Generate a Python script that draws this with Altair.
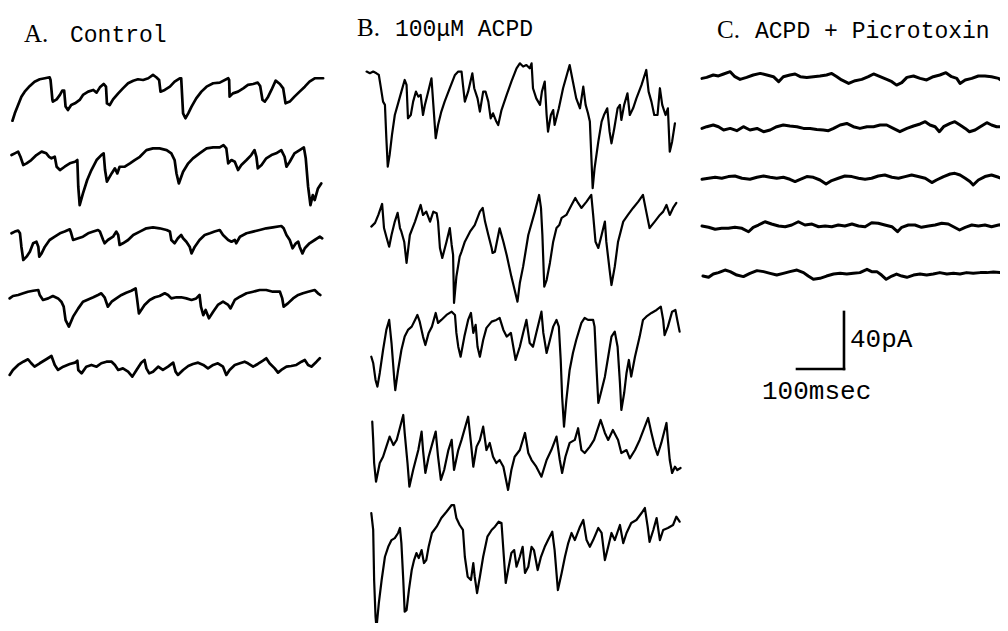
import altair as alt
import pandas as pd

# ---------------- data: (time in ms, current in pA) ----------------
A1 = [(1,-30),(6,-24.8),(13,-19),(20,-13.1),(27,-9.6),(38,-5.6),(48,-2.6),(59,-0.9),(70,-0.2),(80,0.5),(82,-1.4),(86,-15.4),(87,-16.6),(95,-15),(102,-11.9),(107,-8.9),(111,-8.9),(114,-20.1),(119,-22.5),(126,-19),(134,-17.8),(144,-15.4),(151,-11.9),(162,-9.6),(173,-8.4),(180,-10.3),(187,-6.6),(195,-4.2),(200,-6.1),(202,-17.8),(208,-19),(215,-15),(226,-10.8),(236,-7.3),(247,-3.7),(258,-1.9),(268,-0.9),(279,-1.4),(290,-0.2),(300,2.1),(307,0.5),(313,-1.4),(316,-9.6),(325,-8.4),(336,-6.1),(346,-2.6),(357,-0.2),(360,-0.2),(364,-24.8),(369,-28.3),(375,-24.8),(382,-20.1),(392,-14.3),(403,-9.6),(414,-6.1),(428,-3.7),(442,-3.3),(460,-0.2),(462,-1.4),(463,-13.1),(470,-10.8),(481,-9.6),(492,-7.3),(502,-4.9),(513,-4.2),(523,-3.3),(528,-5.6),(533,-15.4),(538,-16.6),(545,-13.1),(552,-8.4),(561,-1.9),(570,-4.2),(577,-7.3),(582,-17.8),(591,-16.6),(601,-13.1),(612,-9.6),(623,-6.1),(633,-2.6),(644,-0.2),(662,-0.2)]
A2 = [(-1,-4.7),(6,-3.5),(13,-2.3),(18,-5.9),(24,-11.7),(31,-10.5),(41,-8.2),(52,-4.7),(63,-2.3),(73,-3.5),(79,-5.9),(84,-7.0),(91,-5.9),(95,-12.9),(102,-15.2),(112,-12.9),(123,-10.5),(134,-9.4),(139,-8.2),(141,-26.9),(144,-39.8),(151,-31.6),(160,-22.2),(169,-15.2),(180,-8.2),(190,-4.7),(195,-3.5),(198,-15.2),(202,-23.4),(212,-17.6),(219,-14.0),(224,-17.6),(229,-12.9),(240,-12.9),(251,-10.5),(261,-8.2),(272,-5.9),(286,-1.2),(300,0),(314,0),(329,-1.2),(339,-3.5),(346,-8.2),(350,-17.6),(355,-24.6),(364,-16.4),(375,-10.5),(385,-7.0),(399,-3.5),(414,0),(428,0.7),(442,0.7),(450,2.3),(456,0),(460,-10.5),(467,-8.2),(474,-9.4),(481,-15.2),(488,-11.7),(499,-8.2),(509,-4.7),(516,-1.2),(520,-5.9),(523,-14.0),(531,-11.7),(541,-7.0),(552,-4.7),(562,-3.5),(573,-1.2),(580,-5.9),(584,-12.9),(591,-9.4),(601,-3.5),(612,-1.2),(621,0.7),(625,-7.0),(630,-26.9),(635,-39.8),(640,-32.8),(644,-36.3),(651,-28.1),(658,-24.6)]
A3 = [(-1,-3.5),(6,-2.3),(13,-1.6),(17,-3.5),(20,-12.9),(24,-22.2),(31,-19.9),(38,-16.4),(45,-10.5),(52,-9.4),(56,-12.9),(58,-19.9),(63,-17.6),(70,-12.9),(80,-8.2),(91,-5.9),(102,-3.5),(112,-2.3),(123,-0.7),(126,-3.5),(130,-8.2),(141,-7.0),(151,-5.9),(162,-3.5),(173,-2.3),(183,-1.2),(187,-2.3),(194,-8.2),(197,-10.5),(204,-8.2),(215,-5.9),(222,-2.3),(226,-4.7),(229,-11.7),(236,-10.5),(247,-8.2),(258,-4.7),(272,-2.3),(286,0),(300,0.7),(314,0),(329,-1.2),(336,-2.3),(339,-8.2),(346,-10.5),(353,-7.0),(360,-4.7),(364,-7.0),(371,-9.4),(378,-12.9),(382,-17.6),(389,-12.9),(399,-8.2),(410,-4.7),(421,-3.5),(431,-2.3),(442,-1.2),(449,-4.7),(460,-8.2),(467,-9.4),(474,-8.2),(477,-10.5),(485,-5.9),(499,-3.5),(513,-2.3),(527,-1.2),(541,0),(555,0.7),(573,1.6),(578,0),(584,-4.7),(591,-8.2),(597,-14.0),(604,-10.5),(609,-9.4),(612,-12.9),(618,-17.6),(623,-14.0),(633,-10.5),(644,-8.2),(655,-5.9),(660,-7.0)]
A4 = [(-5,-5.9),(2,-4.2),(13,-3.5),(24,-2.3),(34,-1.2),(45,-0.5),(56,0),(59,-3.5),(66,-7.0),(77,-5.9),(87,-4.2),(98,-5.9),(105,-8.2),(110,-11.7),(114,-21.1),(121,-25.7),(130,-18.7),(141,-12.9),(151,-8.2),(162,-6.6),(173,-5.1),(183,-3.5),(190,-2.3),(197,-5.1),(204,-11.7),(212,-8.2),(222,-5.9),(233,-3.5),(243,-1.9),(254,-0.5),(263,1.2),(266,-5.9),(270,-16.4),(275,-14.0),(282,-10.5),(293,-7.0),(304,-5.1),(314,-4.2),(325,-2.3),(332,-3.5),(339,-5.9),(350,-5.1),(360,-5.1),(371,-5.9),(382,-7.0),(392,-5.9),(399,-3.5),(402,-11.7),(407,-17.6),(412,-14.0),(419,-19.9),(428,-15.2),(438,-10.5),(449,-8.2),(460,-10.5),(465,-12.9),(474,-7.0),(485,-4.7),(499,-2.3),(513,-1.2),(527,0),(541,0),(555,-1.2),(570,-1.2),(575,-5.9),(578,-11.7),(587,-9.4),(598,-5.9),(609,-3.5),(619,-2.3),(630,-1.2),(644,0),(651,-2.3),(656,-3.5)]
A5 = [(-5,-10.5),(2,-7.0),(13,-3.5),(24,-1.2),(34,0.5),(41,-2.3),(48,-4.7),(59,-2.3),(73,0.5),(84,2.8),(91,-3.5),(98,-7.0),(109,-4.7),(123,-2.8),(134,-1.9),(139,-0.5),(141,-7.0),(148,-9.4),(158,-4.7),(169,-3.5),(180,-4.7),(190,-2.3),(201,-1.2),(212,-1.2),(219,-3.5),(226,-7.0),(236,-5.9),(247,-8.2),(256,-11.7),(265,-7.0),(275,-1.9),(282,0),(286,-5.9),(292,-9.4),(300,-8.2),(311,-4.7),(321,-7.0),(332,-4.7),(343,-1.9),(348,-8.2),(353,-10.5),(364,-7.0),(375,-4.2),(385,-2.8),(396,-1.9),(407,-3.5),(417,-5.9),(428,-3.5),(438,-2.3),(449,-4.7),(456,-10.5),(463,-7.0),(474,-3.5),(485,-2.3),(495,-1.2),(502,-2.3),(513,-4.7),(523,-2.8),(534,-0.5),(541,1.2),(548,-2.3),(559,-5.9),(566,-8.9),(573,-7.0),(584,-4.7),(594,-4.2),(605,-3.5),(616,-1.2),(623,0),(630,-3.5),(637,-4.7),(648,-1.2),(655,1.2)]

B1 = [(-3,-2.3),(4,-3.5),(11,-2.3),(18,-3.5),(23,-4.7),(27,-12.9),(32,-23.4),(36,-25.7),(39,-49.1),(42,-69.0),(46,-60.8),(51,-46.8),(57,-32.8),(64,-24.6),(71,-16.4),(78,-8.2),(82,-11.7),(85,-35.1),(91,-32.8),(96,-23.4),(102,-16.4),(107,-19.9),(112,-18.7),(117,-32.8),(121,-25.7),(128,-16.4),(135,-7.0),(139,-25.7),(144,-49.1),(149,-39.8),(156,-30.4),(163,-23.4),(174,-14.0),(185,-4.7),(192,-2.3),(199,-2.3),(202,-11.7),(206,-23.4),(213,-16.4),(222,-3.5),(226,-14.0),(233,-21.1),(238,-30.4),(245,-16.4),(250,-16.4),(256,-23.4),(261,-35.1),(266,-31.6),(273,-37.4),(277,-39.8),(284,-29.3),(295,-18.7),(305,-9.4),(316,0),(323,3.5),(330,1.2),(337,2.3),(344,0),(348,3.5),(351,-14.0),(358,-21.1),(366,-25.7),(370,-16.4),(376,-9.4),(380,-32.8),(383,-44.5),(389,-32.8),(394,-29.3),(397,-39.8),(406,-28.1),(415,-14.0),(424,-3.5),(429,2.3),(436,-9.4),(443,-21.1),(451,-28.1),(458,-12.9),(463,-25.7),(468,-31.6),(472,-37.4),(475,-60.8),(478,-84.2),(482,-70.2),(490,-51.5),(497,-37.4),(502,-32.8),(509,-28.1),(514,-44.5),(518,-52.7),(524,-42.1),(531,-28.1),(536,-25.7),(539,-36.3),(545,-25.7),(552,-17.6),(557,-32.8),(564,-28.1),(571,-21.1),(582,-11.7),(592,-1.2),(597,-16.4),(603,-23.4),(609,-32.8),(616,-32.8),(621,-14.0),(626,-25.7),(633,-32.8),(638,-28.1),(642,-58.5),(647,-51.5),(653,-38.6)]
B2 = [(7,-18.7),(15,-16.1),(22,-10.5),(30,-2.8),(34,-19.7),(39,-25.8),(45,-32.8),(50,-24.6),(57,-15.2),(63,-9.1),(68,-19.7),(71,-22.3),(77,-29.3),(82,-44.2),(89,-24.6),(100,-15.2),(107,-8.2),(112,-3.5),(117,-10.5),(124,-8.2),(132,-15.2),(139,-8.2),(146,-9.3),(149,-15.2),(153,-33.7),(158,-40.7),(167,-29.3),(174,-19.7),(178,-31.6),(181,-38.6),(183,-72.3),(188,-53.8),(195,-39.8),(199,-36.3),(206,-29.3),(217,-22.3),(227,-17.6),(238,-8.2),(244,-5.6),(249,-15.2),(256,-24.6),(263,-33.7),(265,-37.2),(270,-36.3),(280,-19.9),(288,-29.3),(295,-38.6),(305,-53.8),(318,-71.4),(323,-58.3),(330,-46.8),(341,-24.6),(355,-8.2),(364,3.5),(368,-5.6),(371,-24.6),(375,-60.9),(380,-56.2),(387,-44.2),(394,-29.3),(401,-19.7),(407,-17.6),(412,-12.6),(422,-10.5),(433,-3.5),(441,1.4),(447,-2.1),(454,-5.6),(465,-1.2),(475,3.5),(479,-10.5),(484,-29.3),(490,-33.7),(497,-24.6),(504,-15.2),(507,-29.3),(514,-49.1),(518,-59.7),(525,-46.8),(532,-29.3),(543,-15.2),(553,-10.5),(564,-5.6),(575,-1.2),(585,3.5),(592,-8.2),(599,-19.7),(610,-15.2),(621,-10.5),(628,-8.2),(635,-3.5),(642,-10.5),(649,-5.6),(656,-2.1)]
B3 = [(7,-32.8),(11,-37.2),(16,-49.1),(20,-53.8),(25,-44.2),(32,-28.1),(39,-14.0),(45,-7.0),(50,-23.2),(56,-49.1),(58,-56.2),(64,-42.1),(71,-28.1),(78,-18.7),(85,-14.0),(93,-11.7),(100,-7.0),(105,-3.5),(110,-8.2),(117,-18.7),(122,-24.6),(129,-16.1),(136,-11.7),(144,-2.1),(149,-9.1),(156,-7.0),(167,-3.5),(178,-1.2),(185,-3.5),(188,-16.1),(192,-25.8),(197,-32.8),(205,-18.7),(213,-7.0),(219,-2.1),(224,-16.1),(229,-10.5),(233,-25.8),(238,-32.8),(245,-21.1),(252,-12.6),(263,-8.2),(273,-7.0),(280,-5.6),(288,-14.0),(295,-18.7),(304,-16.1),(314,-35.1),(323,-25.8),(330,-16.1),(337,-7.0),(344,-23.2),(351,-25.8),(358,-16.1),(369,-1.2),(373,-16.1),(380,-30.2),(387,-21.1),(394,-11.7),(401,-7.0),(406,-11.7),(410,-35.1),(413,-60.9),(417,-81.9),(422,-63.2),(429,-42.1),(436,-30.2),(443,-21.1),(454,-9.1),(461,-5.6),(468,-7.0),(479,-7.0),(482,-11.7),(486,-39.8),(490,-65.3),(497,-56.2),(504,-46.8),(511,-32.8),(518,-18.7),(525,-15.2),(531,-25.8),(536,-51.2),(539,-70.2),(545,-58.3),(550,-44.2),(555,-35.1),(560,-46.8),(568,-32.8),(578,-18.7),(585,-7.0),(592,-4.7),(603,-2.1),(614,0),(623,2.3),(628,-7.0),(631,-17.6),(638,-11.7),(647,-1.2),(654,0),(658,-7.0),(663,-15.2)]
B4 = [(9,-1.2),(11,-14.0),(13,-30.2),(17,-43.3),(25,-30.2),(32,-25.8),(39,-18.7),(46,-11.7),(54,-17.6),(61,-14.0),(75,3.5),(78,-9.1),(84,-30.2),(88,-46.8),(96,-35.1),(107,-21.1),(114,-8.2),(117,-21.1),(122,-37.2),(129,-25.8),(139,-14.0),(144,-8.2),(149,-25.8),(155,-42.1),(162,-35.1),(171,-21.1),(178,-14.0),(183,-35.1),(192,-21.1),(199,-14.0),(213,2.3),(219,-16.1),(224,-32.8),(231,-18.7),(238,-14.0),(245,-4.7),(252,-21.1),(259,-16.1),(266,-25.8),(273,-30.2),(280,-28.1),(288,-32.8),(298,-49.1),(305,-35.1),(312,-25.8),(323,-21.1),(334,-9.1),(341,-23.2),(348,-28.1),(358,-32.8),(369,-39.8),(380,-28.1),(390,-21.1),(401,-11.7),(408,-28.1),(413,-37.2),(420,-25.8),(429,-16.1),(440,-14.0),(447,-5.8),(454,-21.1),(461,-23.2),(472,-18.7),(481,-14.0),(495,0),(504,-9.1),(511,-14.0),(521,-7.0),(532,-14.0),(539,-23.2),(550,-21.1),(557,-26.9),(568,-21.1),(578,-14.0),(596,1.4),(603,-9.1),(610,-18.7),(616,-24.6),(624,-16.1),(635,-2.1),(638,-14.0),(642,-28.1),(647,-37.2),(653,-32.8),(658,-35.1),(665,-33.7)]
B5 = [(7,-2.1),(11,-14.0),(13,-49.1),(16,-74.9),(18,-82.8),(23,-65.3),(29,-49.1),(36,-32.8),(43,-25.8),(50,-21.1),(57,-19.7),(64,-16.1),(68,-12.6),(71,-23.2),(75,-49.1),(78,-71.4),(82,-70.2),(87,-56.2),(93,-42.1),(98,-35.1),(103,-30.2),(108,-33.7),(114,-28.1),(119,-37.2),(124,-35.1),(129,-25.8),(136,-16.1),(146,-11.7),(156,-5.6),(167,-1.2),(178,3.5),(183,3.5),(188,-5.6),(195,-10.5),(202,-14.0),(206,-32.8),(212,-46.8),(219,-49.1),(224,-37.2),(227,-46.8),(232,-58.3),(238,-46.8),(245,-32.8),(254,-18.7),(263,-14.0),(270,-11.7),(278,-8.2),(284,-9.1),(289,-32.8),(293,-51.2),(298,-42.1),(305,-30.2),(311,-28.1),(316,-39.8),(323,-32.8),(329,-25.8),(334,-44.2),(341,-39.8),(348,-25.8),(353,-28.1),(361,-42.1),(368,-32.8),(376,-25.8),(383,-21.1),(392,-15.2),(397,-28.1),(404,-56.2),(412,-44.2),(419,-32.8),(426,-23.2),(433,-16.1),(440,-21.1),(451,-11.7),(458,-7.0),(465,-21.1),(472,-25.8),(479,-21.1),(490,-12.6),(497,-16.1),(504,-35.1),(511,-25.8),(518,-16.1),(525,-21.1),(536,-10.5),(543,-23.2),(550,-16.1),(560,-9.1),(571,-7.0),(582,-2.1),(589,1.4),(595,-11.7),(599,-22.3),(607,-14.0),(614,-5.6),(621,-21.1),(628,-14.0),(638,-12.6),(649,-10.5),(656,-4.7),(663,-8.2)]

C1 = [(0,-1.2),(10,-0.5),(24,1.2),(35,0.5),(46,1.9),(60,3.5),(70,0),(81,-1.9),(95,-0.5),(109,1.2),(124,2.3),(138,1.2),(152,0),(163,-3.5),(173,0),(187,1.2),(198,1.9),(209,0),(223,-0.5),(237,0),(251,0.5),(265,1.2),(276,2.3),(287,0),(297,-2.3),(312,-4.7),(326,-2.8),(340,-1.9),(354,0),(365,1.9),(379,0),(393,-1.9),(404,-3.5),(414,-5.9),(425,-4.2),(436,-0.5),(450,0.5),(464,-1.2),(478,-2.3),(492,0),(506,1.2),(519,2.8),(531,0),(542,-1.2),(549,-4.7),(560,-2.3),(574,-1.2),(588,0.5),(602,0.5),(616,0),(631,-1.2),(641,-3.5),(651,-2.3)]
C2 = [(0,-1.2),(10,0),(24,1.2),(35,0),(46,-2.3),(60,-1.2),(74,-2.8),(88,0),(102,-2.3),(117,-1.2),(131,-3.5),(145,-2.3),(159,0),(173,1.2),(187,0.5),(202,0),(216,-1.2),(230,-1.2),(244,-1.9),(258,-2.3),(269,-2.8),(280,-1.2),(294,1.2),(308,2.3),(322,0),(336,-1.2),(351,0),(365,0),(379,1.2),(393,1.2),(407,-1.2),(421,-3.5),(436,-1.2),(450,0.5),(464,1.9),(475,3.5),(485,1.2),(496,0),(505,-3.5),(514,0),(528,2.3),(538,3.5),(549,1.2),(560,-1.2),(569,-3.5),(581,-2.3),(592,0),(606,2.8),(616,1.2),(627,0),(641,0),(651,0.5)]
C3 = [(0,-0.7),(14,0),(28,0.7),(42,0),(56,1.2),(70,1.6),(85,0),(102,-0.7),(117,0.7),(131,1.6),(145,0.7),(159,0),(173,0.7),(187,-0.7),(198,-2.3),(209,-0.7),(223,1.2),(237,0.7),(251,-1.2),(264,-4.0),(276,-1.6),(290,0),(304,1.6),(319,1.2),(333,0),(347,-0.7),(361,0),(375,1.6),(389,2.3),(404,0.7),(418,0),(432,1.2),(446,2.3),(460,1.2),(475,0),(489,-3.0),(499,-1.2),(514,1.2),(528,3.0),(538,3.5),(549,2.3),(560,0),(570,-2.3),(577,-4.7),(588,-1.2),(602,1.2),(616,2.3),(631,0.7),(641,-0.7),(651,-0.7)]
C4 = [(0,-0.7),(14,-1.6),(28,-3.0),(42,-2.3),(56,-2.3),(70,-1.6),(85,-2.3),(99,-4.7),(109,-1.6),(120,0),(134,2.3),(148,0.7),(163,-0.7),(177,-1.2),(191,0),(205,2.3),(219,0),(234,0.7),(248,-1.2),(262,-0.7),(276,-1.2),(290,0),(304,-0.7),(319,0.7),(333,-0.7),(347,-1.2),(361,1.6),(375,1.2),(389,0),(404,-1.2),(416,-4.7),(425,-1.6),(439,0),(453,0),(467,-1.6),(482,-0.7),(496,0),(510,1.2),(524,0.7),(535,-1.2),(548,-3.5),(560,-1.6),(574,0),(588,-0.7),(602,0),(616,-1.2),(631,0),(651,0.7)]
C5 = [(2,-1.9),(14,-2.8),(24,-0.5),(35,0.5),(49,2.3),(60,1.2),(74,-1.2),(88,-2.3),(102,0),(117,1.9),(131,1.2),(145,0),(159,-1.2),(173,0),(187,1.2),(202,2.3),(216,0.5),(226,-1.9),(237,-4.2),(251,-3.5),(265,-1.9),(280,-0.5),(294,0),(308,-0.5),(322,0),(336,0.5),(351,2.8),(361,1.2),(372,1.2),(382,-1.2),(392,-4.2),(404,-1.9),(414,-0.5),(425,-1.9),(436,-2.8),(450,-1.2),(464,-0.5),(478,-1.2),(492,-0.5),(506,0.5),(521,-0.5),(535,0),(549,-0.5),(563,0.5),(577,0),(592,0.5),(606,0.5),(620,0.9),(634,0.5),(651,1.2)]

TRACES = {"A1": A1, "A2": A2, "A3": A3, "A4": A4, "A5": A5,
          "B1": B1, "B2": B2, "B3": B3, "B4": B4, "B5": B5,
          "C1": C1, "C2": C2, "C3": C3, "C4": C4, "C5": C5}

# calibration bar values
BAR_MS = 100
BAR_PA = 40

# panel titles and bar labels
LETTERS = ["A.", "B.", "C."]
NAMES = ["Control", "100\u03bcM ACPD", "ACPD + Picrotoxin"]
BAR_LABELS = ["40pA", "100msec"]

# ---------------- layout (sheet coordinates in ms / pA) ----------------
PX_PER_MS = 0.47      # from the 100 msec bar
PX_PER_PA = 1.425     # from the 40 pA bar
W, H = 992, 615
PANEL_T0 = {"A": 8.5, "B": 766.0, "C": 1476.6}
ROW_I0 = {"A1": -49.1, "A2": -98.5, "A3": -154.6, "A4": -197.9, "A5": -247.0,
          "B1": -42.3, "B2": -134.7, "B3": -211.9, "B4": -289.1, "B5": -352.3,
          "C1": -48.2, "C2": -83.3, "C3": -119.5, "C4": -152.3, "C5": -186.2}
PEN = {"A": 2.7, "B": 2.2, "C": 3.0}
BAR_T0, BAR_I0 = 1678.7, -253.3

rows = []
for name, pts in TRACES.items():
    for k, (t, i) in enumerate(pts):
        rows.append({"trace": name, "panel": name[0], "seq": k,
                     "X": PANEL_T0[name[0]] + t, "Y": ROW_I0[name] + i})
df = pd.DataFrame(rows)

xs = alt.Scale(domain=[0, W / PX_PER_MS], nice=False, zero=False)
ys = alt.Scale(domain=[-H / PX_PER_PA, 0], nice=False, zero=False)


def sweeps(panel):
    return alt.Chart(df[df["panel"] == panel]).mark_line(
        color="black", strokeWidth=PEN[panel], strokeJoin="round", strokeCap="round"
    ).encode(
        x=alt.X("X:Q", scale=xs, axis=None),
        y=alt.Y("Y:Q", scale=ys, axis=None),
        detail="trace:N",
        order="seq:Q",
    )


bar_df = pd.DataFrame([
    {"X": BAR_T0, "X2": BAR_T0 + BAR_MS, "Y": BAR_I0, "Y2": BAR_I0},
    {"X": BAR_T0 + BAR_MS, "X2": BAR_T0 + BAR_MS, "Y": BAR_I0, "Y2": BAR_I0 + BAR_PA},
])
bar = alt.Chart(bar_df).mark_rule(color="black", strokeWidth=2.6, strokeCap="square").encode(
    x=alt.X("X:Q", scale=xs, axis=None), x2="X2:Q",
    y=alt.Y("Y:Q", scale=ys, axis=None), y2="Y2:Q",
)

letter_df = pd.DataFrame({"text": LETTERS, "X": [34.0, 742.6, 1508.5], "Y": [-23.9, -19.6, -21.1]})
name_df = pd.DataFrame({"text": NAMES, "X": [131.9, 823.4, 1589.4], "Y": [-23.9, -19.6, -21.1]})
barlab_df = pd.DataFrame({"text": BAR_LABELS, "X": [1791.5, 1604.3], "Y": [-237.9, -274.4]})


def labels(d, font, size):
    return alt.Chart(d).mark_text(font=font, fontSize=size, align="left",
                                  baseline="alphabetic", color="black").encode(
        x=alt.X("X:Q", scale=xs, axis=None),
        y=alt.Y("Y:Q", scale=ys, axis=None),
        text="text:N",
    )


chart = alt.layer(
    sweeps("A"), sweeps("B"), sweeps("C"), bar,
    labels(letter_df, "Liberation Serif", 25),
    labels(name_df, "Liberation Mono", 23),
    labels(barlab_df, "Liberation Mono", 26),
).properties(width=W, height=H, padding=0, autosize="none", background="white"
).configure_view(stroke=None)

chart.save("out.html", embed_options={"renderer": "svg", "actions": False})
